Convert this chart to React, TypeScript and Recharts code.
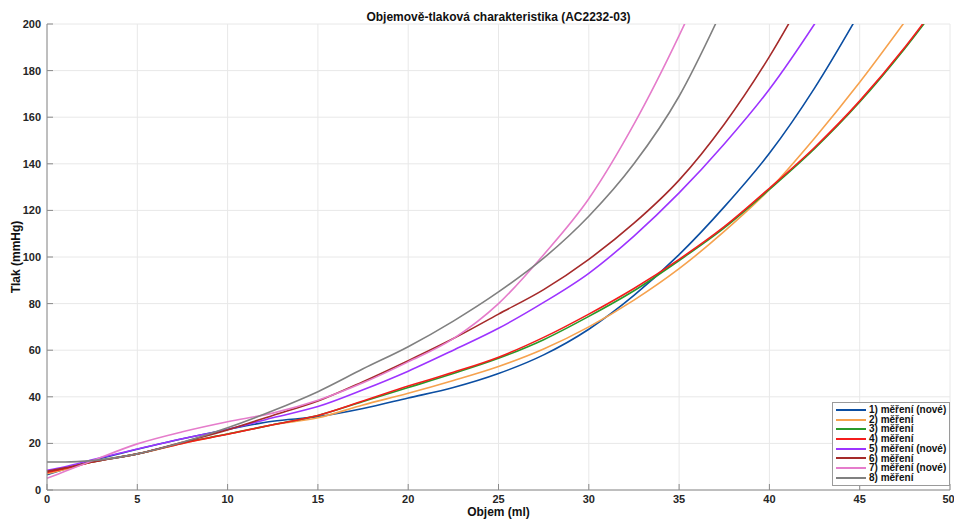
import { LineChart, Line, XAxis, YAxis, CartesianGrid } from 'recharts'

// objem (ml) – společná osa x
const VOLUME = [0, 1, 2.5, 5, 7.5, 10, 12.5, 15, 17.5, 20, 22.5, 25, 27.5, 30, 32.5, 35, 37.5, 40, 42.5, 45, 47.5, 50]

// tlak (mmHg) pro jednotlivá měření
const M1 = [6.5, 9, 12.5, 17.5, 22, 26, 29.5, 31.5, 35, 39.5, 44, 50, 58, 69, 83.5, 101, 121.5, 144.5, 172.5, 205, 240]
const M2 = [7, 8.8, 12, 15.5, 20, 24, 28, 31, 36.5, 41.5, 47, 53, 60.5, 70, 81.5, 95, 111, 129, 151, 175, 201, 228]
const M3 = [8, 9.5, 12, 15.5, 20.2, 24, 28, 32, 38, 44, 50, 56.5, 64.5, 74.5, 85.5, 98.5, 112.5, 129, 146.5, 166.5, 189.5, 215]
const M4 = [7.5, 9.2, 12, 15.5, 20, 23.9, 28, 32, 38.2, 44.6, 50.5, 57, 65.5, 75.5, 86.5, 99, 113, 129.5, 147, 167, 190, 216]
const M5 = [8.5, 10, 13, 17.6, 22, 26, 31, 35.8, 43, 51, 60, 69.4, 80.5, 93, 109, 127.5, 148.5, 172, 200, 231]
const M6 = [8, 9.5, 12, 15.5, 20.5, 25.8, 32, 38.2, 46.5, 55.5, 65, 75.5, 86, 99, 114.5, 133, 157, 186, 220]
const M7 = [5, 8, 12.5, 19.8, 25, 29.3, 33, 38.5, 46, 55, 65, 80, 101, 125, 157, 195, 238]
const M8 = [12, 12, 12.6, 15.5, 20.5, 26.7, 34, 42.2, 52, 61.5, 72.5, 85, 99.5, 117.5, 140, 169, 208]

const X_TICKS = [0, 5, 10, 15, 20, 25, 30, 35, 40, 45, 50]
const Y_TICKS = [0, 20, 40, 60, 80, 100, 120, 140, 160, 180, 200]

const SERIES = [
  { key: 'm1', name: '1) měření (nové)', color: '#0b4ea2', values: M1 },
  { key: 'm2', name: '2) měření', color: '#f6a24e', values: M2 },
  { key: 'm3', name: '3) měření', color: '#2a9a2a', values: M3 },
  { key: 'm4', name: '4) měření', color: '#f41c1c', values: M4 },
  { key: 'm5', name: '5) měření (nové)', color: '#9d34ff', values: M5 },
  { key: 'm6', name: '6) měření', color: '#a52a2a', values: M6 },
  { key: 'm7', name: '7) měření (nové)', color: '#e57ccb', values: M7 },
  { key: 'm8', name: '8) měření', color: '#808080', values: M8 },
]

const data = VOLUME.map((v, i) => {
  const row: Record<string, number | null> = { v }
  SERIES.forEach((s) => {
    row[s.key] = s.values[i] ?? null
  })
  return row
})

const FONT = '"Liberation Sans", Arial, Helvetica, sans-serif'
const AXIS = '#8a8a8a'
const tickStyle = { fontSize: 11, fontWeight: 700, fill: '#262626', fontFamily: FONT }

function LegendBox() {
  return (
    <div
      style={{
        position: 'absolute', left: 832, top: 402,
        border: '1px solid #9a9a9a',
        background: '#fff',
        padding: '2px 3px 2px 3px',
        fontFamily: FONT,
        fontSize: 10,
        fontWeight: 700,
        color: '#111',
        lineHeight: '9.7px',
      }}
    >
      {SERIES.map((s) => (
        <div key={s.key} style={{ display: 'flex', alignItems: 'center', whiteSpace: 'nowrap' }}>
          <span style={{ display: 'inline-block', width: 30, height: 2, background: s.color, marginRight: 3 }} />
          <span>{s.name}</span>
        </div>
      ))}
    </div>
  )
}

export default function App() {
  return (
    <div style={{ position: 'fixed', left: 0, top: 0, width: 954, height: 519, background: '#fff' }}>
      <div
        style={{
          position: 'absolute', left: 47, top: 10, width: 903, textAlign: 'center',
          fontFamily: FONT, fontSize: 12, fontWeight: 700, color: '#111', lineHeight: '14px',
        }}
      >
        Objemově-tlaková charakteristika (AC2232-03)
      </div>
      <LineChart width={954} height={519} data={data} margin={{ top: 24, right: 4, bottom: 0, left: 0 }}>
        <CartesianGrid stroke="#e8e8e8" vertical horizontal />
        <XAxis
          dataKey="v" type="number" domain={[0, 50]} ticks={X_TICKS} height={29}
          tick={tickStyle} tickSize={-6} tickMargin={11} stroke={AXIS}
          label={{ value: 'Objem (ml)', position: 'insideBottom', offset: 3, style: { ...tickStyle, fontSize: 12, fill: '#111' } }}
        />
        <XAxis
          xAxisId="top" orientation="top" dataKey="v" type="number" domain={[0, 50]} ticks={X_TICKS}
          height={0} tick={false} tickSize={-6} stroke={AXIS}
        />
        <YAxis
          type="number" domain={[0, 200]} ticks={Y_TICKS} width={47} allowDataOverflow
          tick={tickStyle} tickSize={-6} tickMargin={12} stroke={AXIS}
          label={{ value: 'Tlak (mmHg)', angle: -90, position: 'insideLeft', offset: 16, style: { ...tickStyle, fontSize: 12, fill: '#111', textAnchor: 'middle' } }}
        />
        <YAxis
          yAxisId="right" orientation="right" type="number" domain={[0, 200]} ticks={Y_TICKS}
          width={0} tick={false} tickSize={-6} stroke={AXIS}
        />
        {SERIES.map((s) => (
          <Line
            key={s.key} dataKey={s.key} name={s.name} type="monotone" stroke={s.color}
            strokeWidth={1.6} dot={false} isAnimationActive={false}
          />
        ))}
      </LineChart>
      <LegendBox />
    </div>
  )
}
